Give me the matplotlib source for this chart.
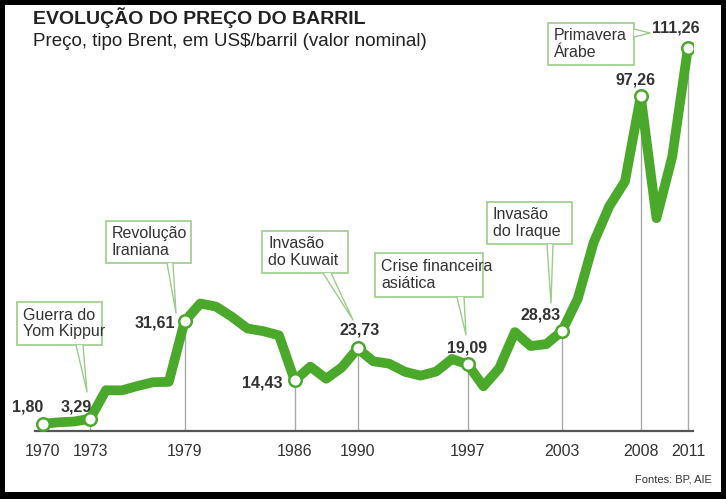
import matplotlib
matplotlib.use('Agg')
import matplotlib.pyplot as plt
from matplotlib import font_manager
from matplotlib.patches import Rectangle, Polygon

# ── data ──────────────────────────────────────────────
years = list(range(1970, 2012))
prices = [1.80, 2.24, 2.48, 3.29, 11.58, 11.53, 12.80, 13.92, 14.02, 31.61,
          36.83, 35.93, 32.97, 29.55, 28.78, 27.56, 14.43, 18.44, 14.92, 18.23,
          23.73, 20.00, 19.32, 16.97, 15.82, 17.02, 20.67, 19.09, 12.72, 17.97,
          28.50, 24.44, 25.02, 28.83, 38.27, 54.52, 65.14, 72.39, 97.26, 61.67,
          79.50, 111.26]
key_years = [1970, 1973, 1979, 1986, 1990, 1997, 2003, 2008, 2011]
key_labels = ['1,80', '3,29', '31,61', '14,43', '23,73', '19,09', '28,83', '97,26', '111,26']

events = ['Guerra do\nYom Kippur', 'Revolução\nIraniana', 'Invasão\ndo Kuwait',
          'Crise financeira\nasiática', 'Invasão\ndo Iraque', 'Primavera\nÁrabe']

# ── style ─────────────────────────────────────────────
names = {f.name for f in font_manager.fontManager.ttflist}
narrow = 'Liberation Sans Narrow' if 'Liberation Sans Narrow' in names else 'Liberation Sans'
plt.rcParams['font.family'] = [narrow, 'DejaVu Sans']

GREEN = '#4aa82a'
LIGHT = '#9ccc8a'
DARK = '#333333'

W, H = 726, 499
fig = plt.figure(figsize=(W / 100, H / 100), dpi=100)
fig.patch.set_facecolor('black')
fig.add_artist(Rectangle((5 / W, 7 / H), 716 / W, 487 / H, transform=fig.transFigure,
                         facecolor='white', edgecolor='none', zorder=0))

# axes placed so that 1 year = 15.73 px and 1 US$ = 3.435 px
x0, ppy, y0, ppv = 43, 15.73, 430, 3.435
left_px, right_px, base_px, top_px = 35, 693, 431, 5
ax = fig.add_axes([left_px / W, 1 - base_px / H, (right_px - left_px) / W, (base_px - top_px) / H])
ax.set_xlim(1970 + (left_px - x0) / ppy, 1970 + (right_px - x0) / ppy)
ax.set_ylim((y0 - base_px) / ppv, (y0 - top_px) / ppv)
ax.patch.set_visible(False)
for s in ['top', 'right', 'left']:
    ax.spines[s].set_visible(False)
ax.spines['bottom'].set_color('#555555')
ax.spines['bottom'].set_linewidth(1.6)
ax.set_yticks([])
ax.set_xticks(key_years)
ax.set_xticklabels([str(y) for y in key_years], fontsize=11.5, color=DARK)
ax.tick_params(axis='x', length=0, pad=9)

def px2data(px, py):
    return 1970 + (px - x0) / ppy, (y0 - py) / ppv

# vertical guide lines
key_vals = [prices[years.index(y)] for y in key_years]
ax.vlines(key_years[1:], ax.get_ylim()[0], key_vals[1:], color='#aaaaaa', lw=1, zorder=1)

# price line and markers
ax.plot(years, prices, color=GREEN, lw=7, solid_capstyle='round',
        solid_joinstyle='round', zorder=3)
ax.plot(key_years, key_vals, 'o', ms=9, mfc='white', mec=GREEN, mew=1.8, zorder=4)

# value labels (pixel positions of their centres)
lab_pos = [(28, 407), (76, 407), (155, 323), (262, 383), (360, 330),
           (467, 348), (541, 315), (636, 80), (676, 28)]
for txt, (px, py) in zip(key_labels, lab_pos):
    lx, ly = px2data(px, py)
    ax.text(lx, ly, txt, ha='center', va='center', fontsize=11.5,
            fontweight='bold', color=DARK, zorder=6, clip_on=False)

# callout boxes: (left, top, right, bottom), pointer base a, pointer base b, tip
boxes = [
    ((17, 302, 102, 345), (76, 345), (83, 345), (87, 392)),
    ((106, 221, 191, 263), (167, 263), (173, 263), (176, 313)),
    ((262, 231, 348, 273), (323, 273), (331, 273), (353, 320)),
    ((375, 253, 483, 297), (457, 297), (464, 297), (466, 335)),
    ((487, 202, 572, 244), (547, 244), (553, 244), (551, 303)),
    ((548, 23, 634, 65), (634, 29), (634, 37), (650, 33)),
]
for txt, (bb, a, b, tip) in zip(events, boxes):
    l, t, r, btm = bb
    xl, yt = px2data(l, t)
    xr, yb = px2data(r, btm)
    ax.add_patch(Rectangle((xl, yb), xr - xl, yt - yb, facecolor='white',
                           edgecolor=LIGHT, lw=1.2, zorder=7, clip_on=False))
    pa, pb, pt = px2data(*a), px2data(*b), px2data(*tip)
    ax.add_patch(Polygon([pa, pt, pb], closed=True, facecolor='white',
                         edgecolor='none', zorder=8, clip_on=False))
    ax.plot([pa[0], pt[0], pb[0]], [pa[1], pt[1], pb[1]], color=LIGHT, lw=1.0,
            zorder=9, clip_on=False)
    tx, ty = px2data(l + 6, (t + btm) / 2)
    ax.text(tx, ty, txt, ha='left', va='center', fontsize=11.5, color=DARK,
            linespacing=1.1, zorder=10, clip_on=False)

# titles and source
fig.text(33 / W, 1 - 18 / H, 'EVOLUÇÃO DO PREÇO DO BARRIL', fontsize=14,
         fontweight='bold', color='#222222', va='center', ha='left')
fig.text(33 / W, 1 - 42 / H, 'Preço, tipo Brent, em US$/barril (valor nominal)',
         fontsize=13.5, color='#222222', va='center', ha='left')
fig.text(712 / W, 1 - 480 / H, 'Fontes: BP, AIE', fontsize=8, color=DARK,
         va='center', ha='right')

fig.savefig('out.png', dpi=100, facecolor='black')
